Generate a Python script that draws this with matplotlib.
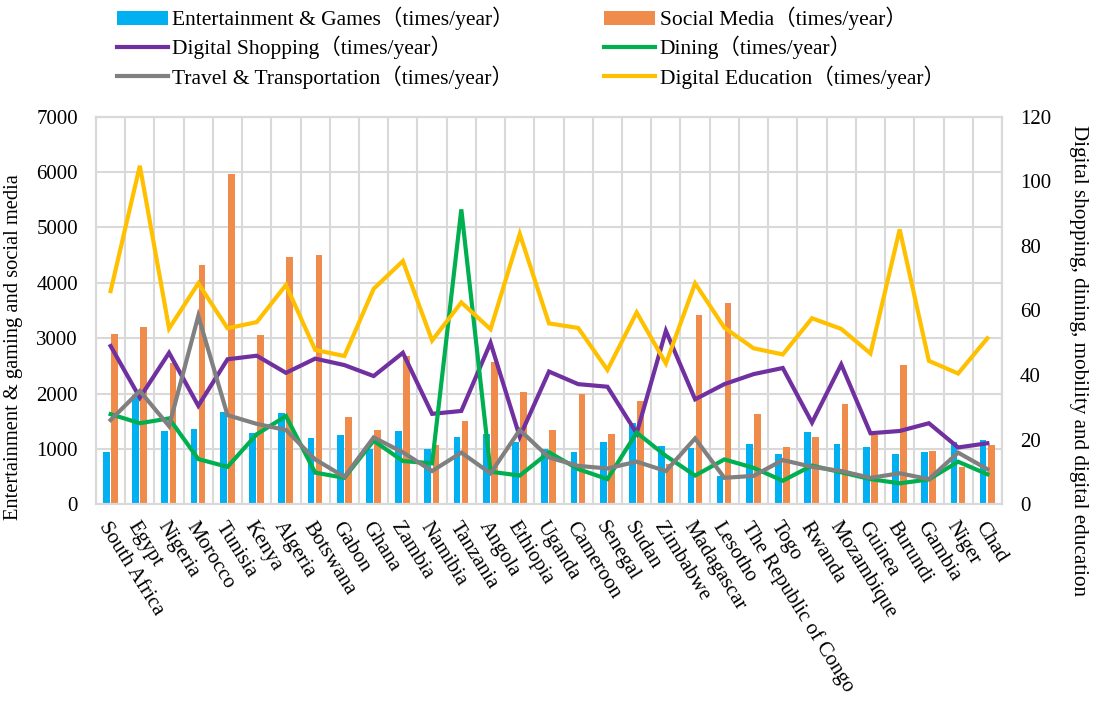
import matplotlib
matplotlib.use("Agg")
import matplotlib.pyplot as plt
import numpy as np

countries = ["South Africa", "Egypt", "Nigeria", "Morocco", "Tunisia", "Kenya", "Algeria",
             "Botswana", "Gabon", "Ghana", "Zambia", "Namibia", "Tanzania", "Angola",
             "Ethiopia", "Uganda", "Cameroon", "Senegal", "Sudan", "Zimbabwe", "Madagascar",
             "Lesotho", "The Republic of Congo", "Togo", "Rwanda", "Mozambique", "Guinea",
             "Burundi", "Gambia", "Niger", "Chad"]

entertainment = [950, 1980, 1320, 1360, 1670, 1280, 1640, 1200, 1250, 990, 1320, 990, 1220,
                 1270, 1130, 990, 950, 1130, 1470, 1050, 1020, 520, 1090, 900, 1300, 1090,
                 1040, 910, 950, 1130, 1160]
social_media = [3070, 3200, 2550, 4320, 5965, 3050, 4460, 4500, 1570, 1340, 2680, 1070, 1500,
                2565, 2030, 1350, 2000, 1270, 1870, 730, 3420, 3630, 1630, 1030, 1220, 1810,
                1250, 2510, 960, 680, 1070]
shopping = [49.0, 33.0, 46.9, 30.5, 44.9, 46.0, 40.7, 45.1, 43.1, 39.7, 46.9, 28.0, 28.9,
            50.0, 20.9, 41.1, 37.2, 36.4, 22.0, 53.7, 32.5, 37.2, 40.3, 42.2, 25.3, 43.3,
            22.0, 22.7, 25.1, 17.6, 18.9]
dining = [27.9, 25.1, 26.6, 14.0, 11.6, 21.7, 27.3, 9.8, 8.2, 19.7, 13.4, 12.7, 91.3, 10.1,
          8.9, 16.1, 10.9, 7.8, 22.2, 15.0, 8.9, 13.9, 11.3, 7.3, 12.0, 9.9, 7.8, 6.5, 7.7,
          13.2, 9.3]
travel = [26.1, 35.1, 24.2, 58.3, 27.6, 24.9, 23.0, 13.9, 8.5, 20.7, 16.1, 10.3, 16.0, 9.6,
          23.0, 14.5, 11.9, 11.1, 13.2, 10.3, 20.4, 8.2, 8.8, 13.7, 11.6, 10.3, 8.2, 9.6, 7.8,
          16.0, 10.9]
education = [66.0, 104.8, 54.4, 68.4, 54.5, 56.4, 67.9, 47.8, 45.9, 66.7, 75.3, 50.7, 62.5,
             54.2, 83.7, 56.0, 54.6, 41.6, 59.4, 43.6, 68.4, 54.7, 48.3, 46.4, 57.6, 54.3,
             46.7, 85.1, 44.4, 40.5, 51.4]

left_ticks = [0, 1000, 2000, 3000, 4000, 5000, 6000, 7000]
right_ticks = [0, 20, 40, 60, 80, 100, 120]

labels = ["Entertainment & Games（times/year）", "Social Media（times/year）",
          "Digital Shopping（times/year）", "Dining（times/year）",
          "Travel & Transportation（times/year）", "Digital Education（times/year）"]

FONT = ["Liberation Serif", "Noto Sans CJK SC", "DejaVu Serif"]
plt.rcParams["font.family"] = FONT

C_BLUE = "#00B0F0"
C_ORANGE = "#F08C4B"
C_PURPLE = "#7030A0"
C_GREEN = "#00B050"
C_GRAY = "#808080"
C_YELLOW = "#FFC000"
GRID = "#D9D9D9"

fig = plt.figure(figsize=(10.96, 7.02), dpi=100)
ax = fig.add_axes([0.0876, 0.2816, 0.8266, 0.5522])
ax2 = ax.twinx()

x = np.arange(len(countries))
w = 0.23
b1 = ax.bar(x - 0.145, entertainment, width=w, color=C_BLUE, zorder=2)
b2 = ax.bar(x + 0.13, social_media, width=w, color=C_ORANGE, zorder=2)

l1, = ax2.plot(x, shopping, color=C_PURPLE, lw=3, solid_joinstyle="miter")
l2, = ax2.plot(x, dining, color=C_GREEN, lw=3, solid_joinstyle="miter")
l3, = ax2.plot(x, travel, color=C_GRAY, lw=3, solid_joinstyle="miter")
l4, = ax2.plot(x, education, color=C_YELLOW, lw=3, solid_joinstyle="miter")

ax.set_xlim(-0.5, len(countries) - 0.5)
ax.set_ylim(0, 7000)
ax2.set_ylim(0, 120)
ax.set_yticks(left_ticks)
ax2.set_yticks(right_ticks)

ax.set_xticks(x)
ax.set_xticks(np.arange(-0.5, len(countries)), minor=True)
ax.set_xticklabels(countries, rotation=-58, ha="left", va="top", rotation_mode="anchor",
                   fontsize=15)
ax.tick_params(axis="x", which="both", length=0, pad=10)
ax.tick_params(axis="y", length=0, labelsize=15, pad=13)
ax2.tick_params(axis="y", length=0, labelsize=15, pad=13)

ax.grid(True, axis="y", color=GRID, lw=1.5, zorder=0)
ax.grid(True, axis="x", which="minor", color=GRID, lw=1.5, zorder=0)
ax.grid(False, axis="x", which="major")
ax.set_axisbelow(True)
for a in (ax, ax2):
    for s in a.spines.values():
        s.set_color(GRID)
        s.set_linewidth(1.5)

ax.set_ylabel("Entertainment & gaming and social media", fontsize=14.8)
ax.yaxis.set_label_coords(-0.0806, 0.405)
ax2.set_ylabel("Digital shopping, dining, mobility and digital education", fontsize=15.2,
               rotation=-90)
ax2.yaxis.set_label_coords(1.095, 0.372)

handles = [b1, l1, l3, b2, l2, l4]
hl = [labels[0], labels[2], labels[4], labels[1], labels[3], labels[5]]
fig.legend(handles, hl, ncol=2, loc="upper left", bbox_to_anchor=(0.1068, 0.99),
           frameon=False, fontsize=15.5, handlelength=2.37, handleheight=0.6,
           columnspacing=4.2, labelspacing=0.26, handletextpad=0.2,
           borderaxespad=0, borderpad=0)

fig.savefig("out.png", dpi=100)
